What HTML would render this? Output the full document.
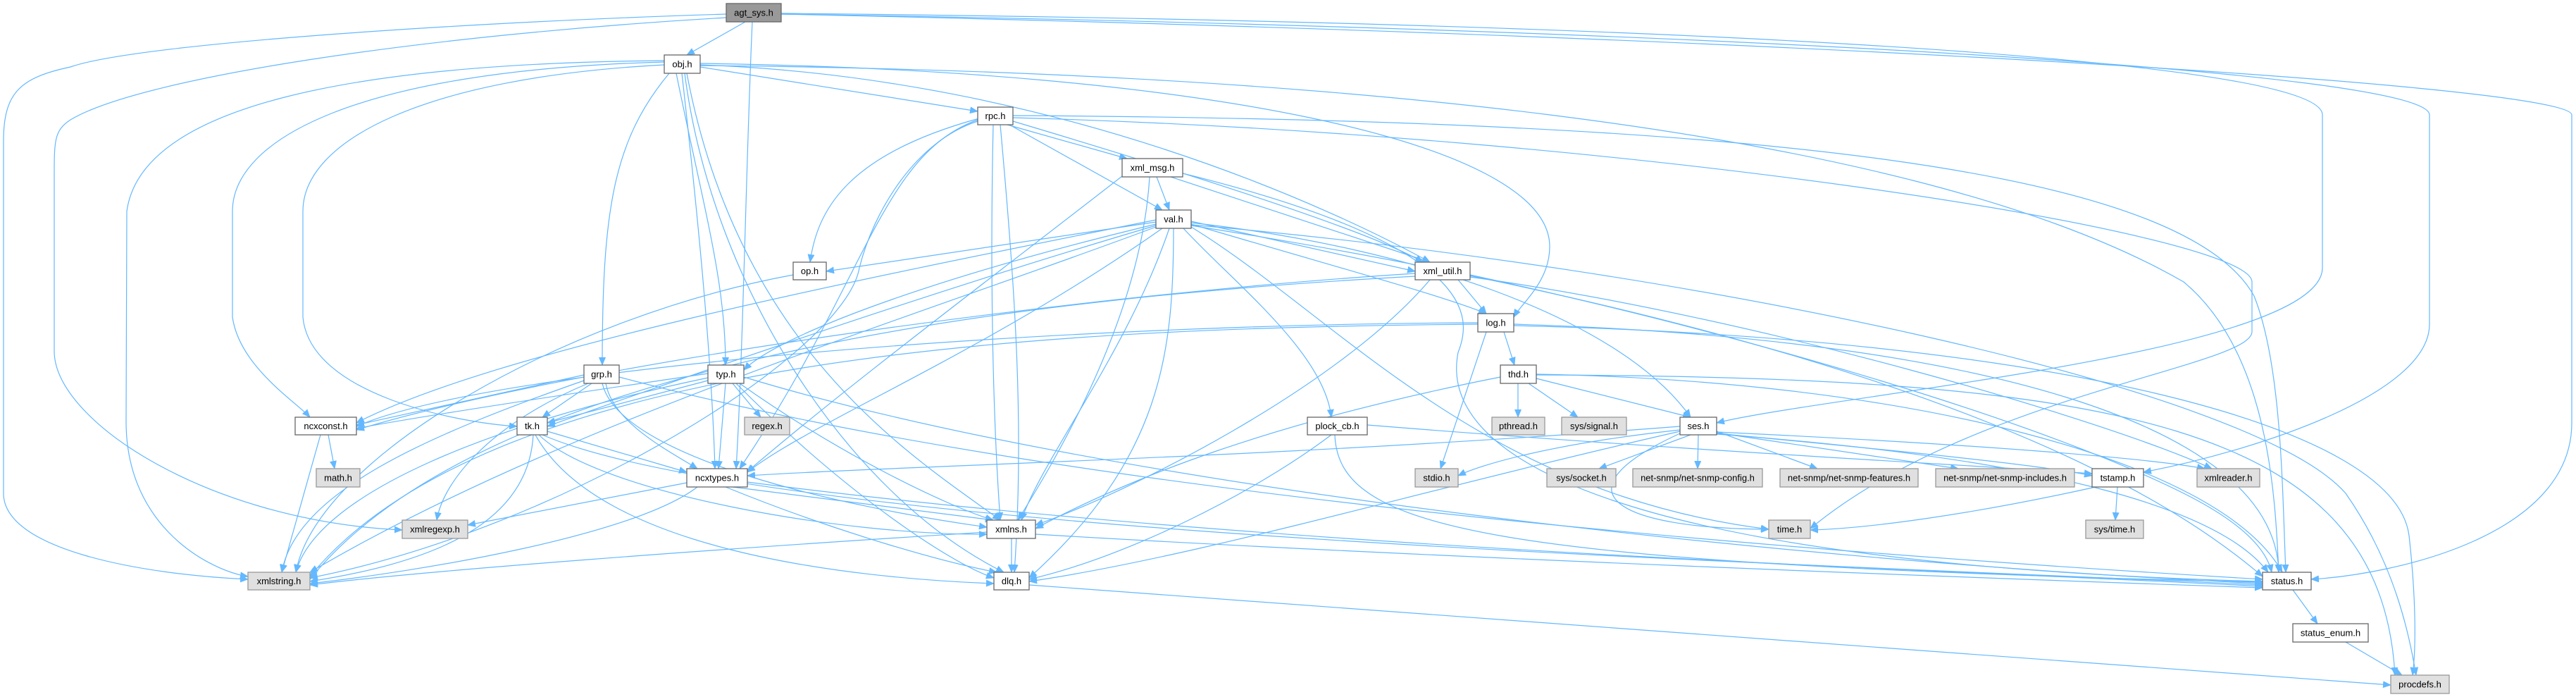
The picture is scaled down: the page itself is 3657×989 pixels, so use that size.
<!DOCTYPE html>
<html><head><meta charset="utf-8"><style>
html,body{margin:0;padding:0;background:#fff;}
svg{display:block;}
text{font-family:"Liberation Sans",Arial,sans-serif;font-size:13px;fill:#000;text-anchor:middle;}
.e{fill:none;stroke:#63b8ff;stroke-width:1.2;marker-end:url(#a);}
.w{fill:#fff;stroke:#666;stroke-width:1.3;}
.g{fill:#e0e0e0;stroke:#999;stroke-width:1.3;}
.r{fill:#999;stroke:#666;stroke-width:1.3;}
</style></head><body>
<svg width="3657" height="989" viewBox="0 0 3657 989" xmlns="http://www.w3.org/2000/svg">
<defs><marker id="a" markerUnits="userSpaceOnUse" markerWidth="12" markerHeight="10" refX="11" refY="5" orient="auto"><path d="M0,0 L12,5 L0,10 z" fill="#63b8ff"/></marker></defs>
<g>
<path class="e" d="M1058,31 L975,78"/>
<path class="e" d="M1068,31 C1060,200 1055,500 1045,665"/>
<path class="e" d="M1031,20 C700,30 200,60 100,95 C30,110 5,130 5,200 L5,700 C5,780 200,815 352,822"/>
<path class="e" d="M1031,25 C600,50 200,110 100,170 C77,185 77,200 77,250 L77,500 C80,600 300,740 571,752"/>
<path class="e" d="M1109,19 C2300,30 3297,80 3297,163 L3297,380 C3297,500 2600,560 2437,600"/>
<path class="e" d="M1109,20 C2400,40 3449,100 3449,163 L3449,460 C3449,560 3200,640 3043,670"/>
<path class="e" d="M1109,20 C2500,50 3651,120 3651,163 L3651,600 C3651,760 3400,815 3281,822"/>
<path class="e" d="M994,95 L1388,158"/>
<path class="e" d="M994,92 C1500,110 1900,300 2030,372"/>
<path class="e" d="M994,90 C1700,100 2200,200 2200,350 C2200,400 2160,430 2149,450"/>
<path class="e" d="M994,93 C1800,100 2700,170 3100,400 C3220,500 3230,700 3235,812"/>
<path class="e" d="M1438,164 C2500,170 3100,240 3200,420 C3240,520 3240,700 3245,812"/>
<path class="e" d="M1438,167 C2300,190 3197,330 3197,400 L3197,470 C3200,520 2800,560 2570,750"/>
<path class="e" d="M943,88 C500,100 330,200 330,300 L330,450 C340,520 420,570 440,592"/>
<path class="e" d="M943,92 C600,110 430,200 430,300 L430,450 C440,560 650,600 734,605"/>
<path class="e" d="M943,86 C500,90 200,150 180,300 L179,600 C180,750 300,810 352,818"/>
<path class="e" d="M950,104 C870,200 855,300 855,518"/>
<path class="e" d="M960,104 C1000,300 1030,400 1030,518"/>
<path class="e" d="M968,104 C990,300 1010,500 1015,665"/>
<path class="e" d="M975,104 C1050,500 1300,650 1420,738"/>
<path class="e" d="M972,104 C1010,400 1200,700 1425,812"/>
<path class="e" d="M1430,177 L1600,225"/>
<path class="e" d="M1433,177 L1650,298"/>
<path class="e" d="M1438,172 C1700,250 1950,330 2020,372"/>
<path class="e" d="M1390,168 C1200,220 1160,300 1150,372"/>
<path class="e" d="M1388,170 C1250,220 1230,400 1050,665"/>
<path class="e" d="M1388,172 C1300,200 1240,300 1220,380 C1200,500 800,750 440,820"/>
<path class="e" d="M1410,177 C1405,400 1410,600 1420,738"/>
<path class="e" d="M1420,177 C1440,400 1455,600 1440,812"/>
<path class="e" d="M1642,251 L1660,298"/>
<path class="e" d="M1662,251 L2030,372"/>
<path class="e" d="M1593,250 C1400,400 1200,550 1060,670"/>
<path class="e" d="M1632,251 C1620,450 1500,650 1445,738"/>
<path class="e" d="M1679,246 C2100,350 2090,450 2070,500 C2040,650 2300,800 3212,825"/>
<path class="e" d="M1641,315 L1173,385"/>
<path class="e" d="M1641,318 C1300,400 1100,480 1056,525"/>
<path class="e" d="M1691,314 L2009,385"/>
<path class="e" d="M1691,318 C1900,380 2050,420 2110,445"/>
<path class="e" d="M1680,324 C1750,400 1880,500 1890,592"/>
<path class="e" d="M1691,316 C2000,350 2300,450 2400,592"/>
<path class="e" d="M1641,312 C1200,400 700,500 506,600"/>
<path class="e" d="M1650,324 C1400,500 1150,600 1061,670"/>
<path class="e" d="M1660,324 C1600,500 1480,650 1450,738"/>
<path class="e" d="M1666,324 C1666,500 1650,650 1461,820"/>
<path class="e" d="M1691,320 C2200,400 2900,550 3212,818"/>
<path class="e" d="M1641,322 C1300,450 800,600 440,812"/>
<path class="e" d="M1691,322 C1900,450 2100,700 2511,751"/>
<path class="e" d="M1691,319 C2400,380 3200,550 3330,700 C3400,800 3420,900 3430,958"/>
<path class="e" d="M1641,320 C1300,420 900,560 777,605"/>
<path class="e" d="M2070,397 L2110,445"/>
<path class="e" d="M2009,392 C1500,420 700,500 440,822"/>
<path class="e" d="M2009,388 C1500,420 800,520 506,610"/>
<path class="e" d="M2030,397 C1900,550 1600,700 1470,745"/>
<path class="e" d="M2087,390 C2500,480 2900,600 3100,700 C3200,750 3220,790 3225,812"/>
<path class="e" d="M2087,393 C2500,450 3000,600 3140,665"/>
<path class="e" d="M2135,471 L2150,518"/>
<path class="e" d="M2110,471 L2045,665"/>
<path class="e" d="M2149,460 C2800,480 3230,600 3235,812"/>
<path class="e" d="M2149,462 C2900,480 3400,600 3420,760 C3430,850 3430,920 3425,958"/>
<path class="e" d="M2098,460 C1500,465 700,500 440,818"/>
<path class="e" d="M2098,458 C1500,460 700,520 506,605"/>
<path class="e" d="M829,532 L506,603"/>
<path class="e" d="M840,544 L770,592"/>
<path class="e" d="M860,544 C870,600 950,640 990,665"/>
<path class="e" d="M855,544 C880,650 1200,720 1401,748"/>
<path class="e" d="M829,540 C600,620 420,700 400,812"/>
<path class="e" d="M835,544 C700,600 630,680 620,738"/>
<path class="e" d="M879,535 C1500,700 2500,780 3212,822"/>
<path class="e" d="M1005,540 L777,600"/>
<path class="e" d="M1005,530 C800,560 600,590 506,608"/>
<path class="e" d="M1040,544 L1080,592"/>
<path class="e" d="M1030,544 L1020,665"/>
<path class="e" d="M1050,544 C1200,650 1350,720 1410,738"/>
<path class="e" d="M1005,536 C700,600 450,700 420,812"/>
<path class="e" d="M1056,535 C1600,700 2600,800 3212,828"/>
<path class="e" d="M1045,544 C1200,700 1350,800 1411,820"/>
<path class="e" d="M2155,544 L2155,592"/>
<path class="e" d="M2170,544 L2240,592"/>
<path class="e" d="M2181,537 L2400,592"/>
<path class="e" d="M2181,531 C2700,540 3150,650 3240,812"/>
<path class="e" d="M2130,535 C1800,600 1600,680 1470,750"/>
<path class="e" d="M2181,532 C3000,535 3380,600 3400,958"/>
<path class="e" d="M2385,610 C2200,630 2100,660 2070,675"/>
<path class="e" d="M2400,617 L2270,665"/>
<path class="e" d="M2411,617 L2410,665"/>
<path class="e" d="M2437,612 L2580,665"/>
<path class="e" d="M2437,614 L2780,665"/>
<path class="e" d="M2437,615 C2700,640 2900,660 2970,675"/>
<path class="e" d="M2437,613 C2800,630 3050,650 3130,665"/>
<path class="e" d="M2385,615 C2200,700 2300,750 2511,751"/>
<path class="e" d="M2385,612 C2000,700 1700,790 1461,825"/>
<path class="e" d="M2385,605 C1800,650 1300,660 1061,675"/>
<path class="e" d="M2437,616 C2900,650 3150,720 3220,812"/>
<path class="e" d="M1941,603 C2400,640 2800,660 2970,672"/>
<path class="e" d="M1890,617 C1780,700 1600,790 1461,822"/>
<path class="e" d="M1895,617 C1900,750 2100,800 3212,826"/>
<path class="e" d="M466,617 L475,665"/>
<path class="e" d="M455,617 L400,812"/>
<path class="e" d="M777,612 L975,670"/>
<path class="e" d="M765,617 C850,700 1200,760 1401,758"/>
<path class="e" d="M757,617 C750,750 600,800 440,825"/>
<path class="e" d="M760,617 C850,780 1200,820 1411,828"/>
<path class="e" d="M770,617 C1100,760 2600,800 3212,830"/>
<path class="e" d="M975,685 L664,745"/>
<path class="e" d="M1040,691 L1410,738"/>
<path class="e" d="M990,691 C900,760 600,810 440,828"/>
<path class="e" d="M1030,691 C1200,760 1350,800 1415,812"/>
<path class="e" d="M1061,684 C1800,780 2800,810 3212,832"/>
<path class="e" d="M1436,764 L1436,812"/>
<path class="e" d="M1401,755 C1000,780 600,810 440,830"/>
<path class="e" d="M1470,758 C2000,790 2800,820 3212,834"/>
<path class="e" d="M1461,830 L3394,972"/>
<path class="e" d="M2975,691 C2800,730 2650,750 2570,752"/>
<path class="e" d="M3006,691 L3003,738"/>
<path class="e" d="M3255,837 L3290,885"/>
<path class="e" d="M3330,911 L3410,958"/>
<path class="e" d="M1126,390 C800,450 450,650 420,812"/>
</g>
<g>
<rect class="r" x="1031" y="5" width="78" height="26"/><text x="1070" y="22.5">agt_sys.h</text>
<rect class="w" x="943" y="78" width="51" height="26"/><text x="968.5" y="95.5">obj.h</text>
<rect class="w" x="1126" y="372" width="47" height="25"/><text x="1149.5" y="389">op.h</text>
<rect class="w" x="1388" y="152" width="50" height="25"/><text x="1413" y="169">rpc.h</text>
<rect class="w" x="1593" y="225" width="86" height="26"/><text x="1636" y="242.5">xml_msg.h</text>
<rect class="w" x="1641" y="298" width="50" height="26"/><text x="1666" y="315.5">val.h</text>
<rect class="w" x="2009" y="372" width="78" height="25"/><text x="2048" y="389">xml_util.h</text>
<rect class="w" x="2098" y="445" width="51" height="26"/><text x="2123.5" y="462.5">log.h</text>
<rect class="w" x="829" y="518" width="50" height="26"/><text x="854" y="535.5">grp.h</text>
<rect class="w" x="1005" y="518" width="51" height="26"/><text x="1030.5" y="535.5">typ.h</text>
<rect class="w" x="2130" y="518" width="51" height="26"/><text x="2155.5" y="535.5">thd.h</text>
<rect class="w" x="419" y="592" width="87" height="25"/><text x="462.5" y="609">ncxconst.h</text>
<rect class="w" x="734" y="592" width="43" height="25"/><text x="755.5" y="609">tk.h</text>
<rect class="g" x="1057" y="592" width="64" height="25"/><text x="1089" y="609">regex.h</text>
<rect class="w" x="1856" y="592" width="85" height="25"/><text x="1898.5" y="609">plock_cb.h</text>
<rect class="g" x="2118" y="592" width="75" height="25"/><text x="2155.5" y="609">pthread.h</text>
<rect class="g" x="2217" y="592" width="92" height="25"/><text x="2263" y="609">sys/signal.h</text>
<rect class="w" x="2385" y="592" width="52" height="25"/><text x="2411" y="609">ses.h</text>
<rect class="g" x="449" y="665" width="62" height="26"/><text x="480" y="682.5">math.h</text>
<rect class="w" x="975" y="665" width="86" height="26"/><text x="1018" y="682.5">ncxtypes.h</text>
<rect class="g" x="2009" y="665" width="61" height="26"/><text x="2039.5" y="682.5">stdio.h</text>
<rect class="g" x="2196" y="665" width="98" height="26"/><text x="2245" y="682.5">sys/socket.h</text>
<rect class="g" x="2318" y="665" width="184" height="26"/><text x="2410" y="682.5">net-snmp/net-snmp-config.h</text>
<rect class="g" x="2527" y="665" width="196" height="26"/><text x="2625" y="682.5">net-snmp/net-snmp-features.h</text>
<rect class="g" x="2748" y="665" width="197" height="26"/><text x="2846.5" y="682.5">net-snmp/net-snmp-includes.h</text>
<rect class="w" x="2970" y="665" width="73" height="26"/><text x="3006.5" y="682.5">tstamp.h</text>
<rect class="g" x="3119" y="665" width="89" height="26"/><text x="3163.5" y="682.5">xmlreader.h</text>
<rect class="g" x="571" y="738" width="93" height="26"/><text x="617.5" y="755.5">xmlregexp.h</text>
<rect class="w" x="1401" y="738" width="69" height="26"/><text x="1435.5" y="755.5">xmlns.h</text>
<rect class="g" x="2511" y="738" width="59" height="26"/><text x="2540.5" y="755.5">time.h</text>
<rect class="g" x="2961" y="738" width="82" height="26"/><text x="3002" y="755.5">sys/time.h</text>
<rect class="g" x="352" y="812" width="88" height="25"/><text x="396" y="829">xmlstring.h</text>
<rect class="w" x="1411" y="812" width="50" height="25"/><text x="1436" y="829">dlq.h</text>
<rect class="w" x="3212" y="812" width="69" height="25"/><text x="3246.5" y="829">status.h</text>
<rect class="w" x="3255" y="885" width="107" height="26"/><text x="3308.5" y="902.5">status_enum.h</text>
<rect class="g" x="3394" y="958" width="83" height="26"/><text x="3435.5" y="975.5">procdefs.h</text>
</g>
</svg>
</body></html>
